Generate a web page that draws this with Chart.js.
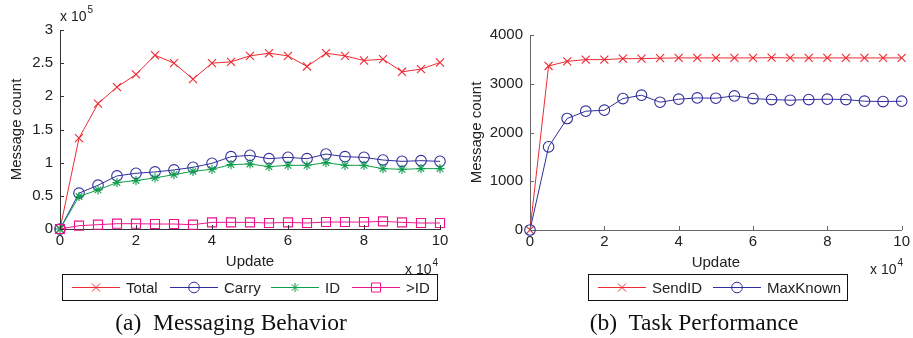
<!DOCTYPE html>
<html>
<head>
<meta charset="utf-8">
<script src="https://cdn.jsdelivr.net/npm/chart.js@4/dist/chart.umd.min.js"></script>
<style>
  body { margin: 0; background: #fff; }
  #wrap { position: relative; width: 913px; height: 338px; overflow: hidden; }
  canvas { position: absolute; top: 0; }
  .cap { position: absolute; top: 309px; font: 23.5px "Liberation Serif", "Times New Roman", serif; color: #111; white-space: nowrap; transform: translateX(-50%); }
</style>
</head>
<body>
<div id="wrap">
  <canvas id="msgChart" width="460" height="338" style="left:0;width:460px;height:338px"></canvas>
  <canvas id="taskChart" width="453" height="338" style="left:460px;width:453px;height:338px"></canvas>
  <div class="cap" style="left:231px">(a)&nbsp; Messaging Behavior</div>
  <div class="cap" style="left:694px">(b)&nbsp; Task Performance</div>
</div>
<script>
// updates, in units of 10^4
const updates = [0, 0.5, 1, 1.5, 2, 2.5, 3, 3.5, 4, 4.5, 5, 5.5, 6, 6.5, 7, 7.5, 8, 8.5, 9, 9.5, 10];
const xTickLabels = ['0', '2', '4', '6', '8', '10'];

// (a) message counts, in units of 10^5
const totalMsgs = [0, 1.37, 1.89, 2.14, 2.33, 2.62, 2.50, 2.26, 2.50, 2.52, 2.61, 2.65, 2.61, 2.45, 2.65, 2.61, 2.54, 2.56, 2.37, 2.41, 2.51];
const carryMsgs = [0, 0.54, 0.66, 0.80, 0.84, 0.86, 0.89, 0.93, 0.99, 1.09, 1.11, 1.06, 1.08, 1.06, 1.13, 1.09, 1.08, 1.04, 1.02, 1.03, 1.02];
const idMsgs    = [0, 0.49, 0.59, 0.70, 0.73, 0.77, 0.82, 0.87, 0.90, 0.97, 0.98, 0.94, 0.96, 0.96, 1.00, 0.96, 0.96, 0.91, 0.90, 0.91, 0.91];
const gtIdMsgs  = [0, 0.05, 0.065, 0.08, 0.08, 0.075, 0.075, 0.065, 0.10, 0.10, 0.10, 0.09, 0.10, 0.09, 0.105, 0.105, 0.105, 0.115, 0.10, 0.09, 0.09];
const msgTickLabels = ['0', '0.5', '1', '1.5', '2', '2.5', '3'];

// (b) task performance
const sendId   = [0, 3365, 3460, 3495, 3495, 3515, 3515, 3525, 3530, 3530, 3530, 3530, 3530, 3535, 3530, 3530, 3530, 3530, 3530, 3530, 3530];
const maxKnown = [0, 1706, 2287, 2437, 2457, 2696, 2765, 2621, 2683, 2710, 2703, 2751, 2696, 2676, 2662, 2676, 2683, 2676, 2642, 2635, 2642];
const taskTickLabels = ['0', '1000', '2000', '3000', '4000'];

const RED = '#ee2a33', BLUE = '#2f2f9c', GREEN = '#0f9e4c', PINK = '#ec148c';
const SANS = '"Liberation Sans", Arial, sans-serif';

function series(label, values, color, style, radius, order) {
    return {
        label: label,
        data: updates.map((u, i) => ({ x: u, y: values[i] })),
        borderColor: color,
        borderWidth: 1,
        pointStyle: style,
        pointRadius: radius,
        pointHoverRadius: radius,
        pointBorderColor: color,
        pointBackgroundColor: 'rgba(0,0,0,0)',
        pointBorderWidth: 1.1,
        tension: 0,
        clip: false,
        order: order
    };
}

// MATLAB style: inward ticks, exponent labels, boxed legend under the axes
const matlabLook = {
    id: 'matlabLook',
    afterDraw(chart, args, opts) {
        const { ctx, chartArea: a, scales: { x, y } } = chart;
        ctx.save();
        ctx.strokeStyle = opts.axisColor;
        ctx.lineWidth = 1;
        ctx.beginPath();
        x.ticks.forEach(t => {
            const px = Math.round(x.getPixelForValue(t.value)) + 0.5;
            ctx.moveTo(px, a.bottom); ctx.lineTo(px, a.bottom - 4);
        });
        y.ticks.forEach(t => {
            const py = Math.round(y.getPixelForValue(t.value)) + 0.5;
            ctx.moveTo(a.left, py); ctx.lineTo(a.left + 4, py);
        });
        ctx.stroke();

        ctx.fillStyle = '#222';
        ctx.textBaseline = 'middle';
        opts.exponents.forEach(e => {
            ctx.font = '14px ' + SANS;
            ctx.textAlign = 'left';
            ctx.fillText('x 10', e.x, e.y);
            const w = ctx.measureText('x 10').width;
            ctx.font = '10px ' + SANS;
            ctx.fillText(e.pow, e.x + w + 1, e.y - 7);
        });

        // legend
        const L = opts.legend;
        ctx.fillStyle = '#fff';
        ctx.fillRect(L.x, L.y, L.w, L.h);
        ctx.strokeStyle = '#111';
        ctx.strokeRect(L.x + 0.5, L.y + 0.5, L.w, L.h);
        const cy = L.y + L.h / 2 + 0.5;
        ctx.font = '15px ' + SANS;
        ctx.textAlign = 'left';
        chart.data.datasets.forEach((ds, i) => {
            const lx = L.items[i];
            ctx.strokeStyle = ds.borderColor;
            ctx.lineWidth = 1;
            ctx.beginPath();
            ctx.moveTo(lx, cy); ctx.lineTo(lx + 48, cy);
            ctx.stroke();
            ctx.fillStyle = 'rgba(0,0,0,0)';
            ctx.strokeStyle = ds.borderColor;
            Chart.helpers.drawPoint(ctx, {
                pointStyle: ds.pointStyle, radius: ds.pointRadius, borderWidth: 1, rotation: 0
            }, lx + 24, cy);
            ctx.fillStyle = '#222';
            ctx.fillText(ds.label, lx + 54, cy + 1);
        });
        ctx.restore();
    }
};

function axes(yMax, yStep, yLabels, xTitlePad, axisColor) {
    return {
        x: {
            type: 'linear', min: 0, max: 10,
            ticks: { stepSize: 2, padding: 3, color: '#222', font: { family: SANS, size: 15 },
                     callback: (v) => xTickLabels[v / 2] },
            grid: { display: false, drawTicks: false },
            border: { display: true, color: axisColor, width: 1 },
            title: { display: true, text: 'Update', color: '#222', font: { family: SANS, size: 15 },
                     padding: { top: 0, bottom: xTitlePad } },
            afterFit: (s) => { s.height = 109; }
        },
        y: {
            type: 'linear', min: 0, max: yMax,
            ticks: { stepSize: yStep, padding: 7, color: '#222', font: { family: SANS, size: 15 },
                     callback: (v) => yLabels[Math.round(v / yStep)] },
            grid: { display: false, drawTicks: false },
            border: { display: true, color: axisColor, width: 1 },
            title: { display: true, text: 'Message count', color: '#222', font: { family: SANS, size: 15 },
                     padding: { top: 8, bottom: 0 } },
            afterFit: (s) => { s.width = 60; }
        }
    };
}

const msgScales = axes(3, 0.5, msgTickLabels, 67, '#333');
new Chart(document.getElementById('msgChart'), {
    type: 'line',
    data: {
        datasets: [
            series('Total', totalMsgs, RED, 'crossRot', 5.7, 4),
            series('Carry', carryMsgs, BLUE, 'circle', 5.3, 3),
            series('ID', idMsgs, GREEN, 'star', 4.6, 2),
            series('>ID', gtIdMsgs, PINK, 'rect', 6.4, 1)
        ]
    },
    options: {
        responsive: false,
        animation: false,
        events: [],
        layout: { padding: { left: 0, top: 30, right: 20, bottom: 0 } },
        scales: msgScales,
        plugins: {
            legend: { display: false },
            tooltip: { enabled: false },
            matlabLook: {
                axisColor: '#333',
                exponents: [{ x: 60, y: 17, pow: '5' }, { x: 405, y: 270, pow: '4' }],
                legend: { x: 62, y: 274, w: 375, h: 26, items: [72, 170, 271, 352] }
            }
        }
    },
    plugins: [matlabLook]
});

const taskScales = axes(4000, 1000, taskTickLabels, 66, '#666');
taskScales.x.afterFit = (s) => { s.height = 108; };
taskScales.y.afterFit = (s) => { s.width = 70; };
new Chart(document.getElementById('taskChart'), {
    type: 'line',
    data: {
        datasets: [
            series('SendID', sendId, RED, 'crossRot', 5.7, 2),
            series('MaxKnown', maxKnown, BLUE, 'circle', 5.3, 1)
        ]
    },
    options: {
        responsive: false,
        animation: false,
        events: [],
        layout: { padding: { left: 0, top: 35, right: 9, bottom: 0 } },
        scales: taskScales,
        plugins: {
            legend: { display: false },
            tooltip: { enabled: false },
            matlabLook: {
                axisColor: '#666',
                exponents: [{ x: 410, y: 270, pow: '4' }],
                legend: { x: 128, y: 274, w: 259, h: 26, items: [138, 253] }
            }
        }
    },
    plugins: [matlabLook]
});
</script>
</body>
</html>
